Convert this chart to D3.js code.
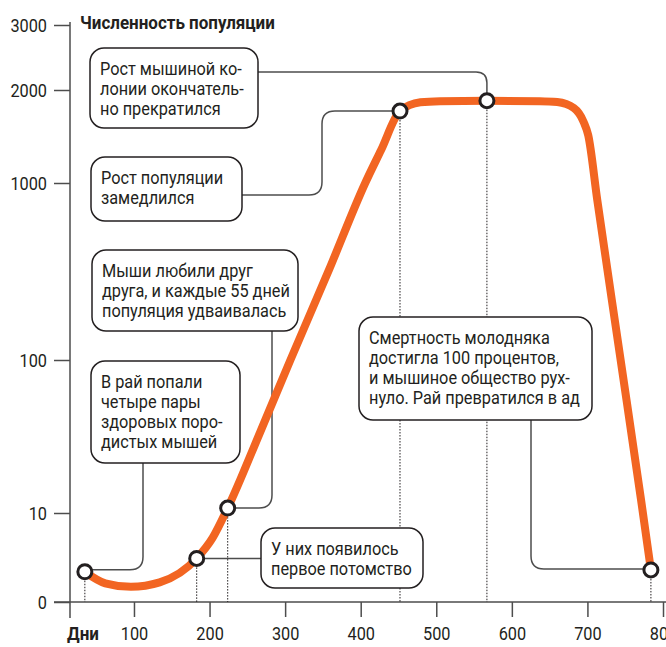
<!DOCTYPE html>
<html>
<head>
<meta charset="utf-8">
<script src="https://cdn.jsdelivr.net/npm/d3@7"></script>
<style>
html,body{margin:0;padding:0;background:#fff;}
svg{display:block;}
text{font-family:Roboto,"Noto Sans",sans-serif;fill:#231f20;}
</style>
</head>
<body>
<svg id="chart" width="666" height="647"></svg>
<script>
// ---- data ----
const days = [35, 62, 96, 134, 183, 204, 224, 267, 307, 358, 406, 427, 452, 479, 505, 567, 637, 660, 682, 695, 701, 713, 742, 771, 784];
const population = [3.4, 2.1, 1.7, 2.2, 4.9, 7.2, 12.9, 57.6, 100, 558, 1000, 1355, 1774, 1868, 1880, 1885, 1880, 1870, 1806, 1656, 1516, 914, 151, 17.6, 3.6];
const markerIndex = [0, 4, 6, 12, 15, 24];
const yTicks = [0, 10, 100, 1000, 2000, 3000];
const xTicks = [100, 200, 300, 400, 500, 600, 700, 800];
const yTitle = "Численность популяции";
const xTitle = "Дни";
const notes = [
  ["Рост мышиной ко-", "лонии окончатель-", "но прекратился"],
  ["Рост популяции", "замедлился"],
  ["Мыши любили друг", "друга, и каждые 55 дней", "популяция удваивалась"],
  ["В рай попали", "четыре пары", "здоровых поро-", "дистых мышей"],
  ["У них появилось", "первое потомство"],
  ["Смертность молодняка", "достигла 100 процентов,", "и мышиное общество рух-", "нуло. Рай превратился в ад"]
];

// ---- scales ----
const x = d3.scaleLinear().domain([0, 800]).range([58.4, 663]);
const y = d3.scaleLinear().domain(yTicks).range([602, 513, 360, 183, 90, 25]);

const svg = d3.select("#chart");
const ink = "#231f20", lineGray = "#4d4d4d", orange = "#f26522";
const FS = 19;

// axes
const yAxisX = 70;
svg.append("line").attr("x1", yAxisX).attr("x2", yAxisX).attr("y1", 22).attr("y2", 618)
  .attr("stroke", lineGray).attr("stroke-width", 1.5);
svg.append("line").attr("x1", 54).attr("x2", 666).attr("y1", y(0)).attr("y2", y(0))
  .attr("stroke", lineGray).attr("stroke-width", 1.5);

const gy = svg.append("g").attr("transform", `translate(${yAxisX},0)`)
  .call(d3.axisLeft(y).tickValues(yTicks).tickSize(16).tickPadding(7).tickFormat(d3.format("d")));
gy.select(".domain").remove();
gy.attr("font-family", null).attr("font-size", null);
gy.selectAll(".tick line").attr("stroke", lineGray).attr("stroke-width", 1.5);
gy.selectAll(".tick text").attr("font-size", FS).attr("dy", "0.35em");

const gx = svg.append("g").attr("transform", `translate(0,${y(0)})`)
  .call(d3.axisBottom(x).tickValues(xTicks).tickSize(15).tickPadding(0).tickFormat(d3.format("d")));
gx.select(".domain").remove();
gx.attr("font-family", null).attr("font-size", null);
gx.selectAll(".tick line").attr("stroke", lineGray).attr("stroke-width", 1.5);
gx.selectAll(".tick text").attr("font-size", FS).attr("y", 38).attr("dy", 0);
svg.selectAll(".tick text").attr("fill", ink);

const xt = svg.append("text").attr("class", "bold").attr("x", 67).attr("y", 640).attr("font-size", FS).attr("font-weight", "bold").text(xTitle);
const yt = svg.append("text").attr("class", "bold").attr("x", 80).attr("y", 29).attr("font-size", FS).attr("font-weight", "bold").text(yTitle);

const pts = days.map((d, i) => ({ d, v: population[i] }));
const mk = markerIndex.map(i => ({ px: x(days[i]), py: y(population[i]) }));

// dotted drop lines
svg.append("g").selectAll("line").data(mk).join("line")
  .attr("x1", d => d.px).attr("x2", d => d.px).attr("y1", d => d.py).attr("y2", y(0))
  .attr("stroke", ink).attr("stroke-width", 1).attr("stroke-dasharray", "1.5,1.5");

// rounded polyline helper
function rounded(p, r) {
  let s = `M${p[0][0]},${p[0][1]}`;
  for (let i = 1; i < p.length - 1; i++) {
    const [ax, ay] = p[i - 1], [bx, by] = p[i], [cx, cy] = p[i + 1];
    const l1 = Math.hypot(bx - ax, by - ay), l2 = Math.hypot(cx - bx, cy - by);
    const rr = Math.min(r, l1 / 2, l2 / 2);
    const s1x = bx - (bx - ax) / l1 * rr, s1y = by - (by - ay) / l1 * rr;
    const s2x = bx + (cx - bx) / l2 * rr, s2y = by + (cy - by) / l2 * rr;
    s += `L${s1x},${s1y}Q${bx},${by} ${s2x},${s2y}`;
  }
  const q = p[p.length - 1];
  return s + `L${q[0]},${q[1]}`;
}

// boxes layout
const boxes = [
  { x: 90, y: 48, w: 168, h: 80 },
  { x: 91, y: 157, w: 151, h: 64 },
  { x: 92, y: 250, w: 206, h: 81 },
  { x: 91, y: 361, w: 149, h: 102 },
  { x: 261, y: 528, w: 162, h: 60 },
  { x: 359, y: 317, w: 233, h: 103 }
];
const R = 7;
const m = mk;
const connectors = [
  [[258, 72], [m[4].px, 72], [m[4].px, m[4].py - R]],
  [[242, 195], [322, 195], [322, m[3].py], [m[3].px - R, m[3].py]],
  [[272, 331], [272, m[2].py], [m[2].px + R, m[2].py]],
  [[143, 463], [143, m[0].py - 2], [m[0].px + R, m[0].py - 2]],
  [[261, m[1].py], [m[1].px + R, m[1].py]],
  [[531, 420], [531, m[5].py - 1], [m[5].px - R, m[5].py - 1]]
];
svg.append("g").selectAll("path").data(connectors).join("path")
  .attr("d", d => rounded(d, 13)).attr("fill", "none")
  .attr("stroke", lineGray).attr("stroke-width", 1.5);

const gb = svg.append("g").selectAll("g").data(boxes).join("g");
gb.append("rect").attr("x", d => d.x).attr("y", d => d.y).attr("width", d => d.w).attr("height", d => d.h)
  .attr("rx", 14).attr("fill", "#fff").attr("stroke", ink).attr("stroke-width", 1.5);
gb.each(function (b, i) {
  const t = d3.select(this).append("text").attr("class", "note").attr("font-size", FS).attr("data-ax", b.x + 10);
  notes[i].forEach((ln, j) => t.append("tspan").attr("x", b.x + 10).attr("y", b.y + 27.5 + j * 20).text(ln));
});

// condense text horizontally to mimic the narrow typeface
const probe = gb.filter((d, i) => i === 2).select("text tspan:nth-child(2)").node();
const kReg = 188 / probe.getComputedTextLength();
const kBold = 195 / yt.node().getComputedTextLength();
function squeeze(sel, k) {
  sel.each(function () {
    const el = d3.select(this);
    let ax = el.attr("data-ax");
    if (ax == null) ax = +el.attr("x") || 0;
    el.attr("transform", `translate(${ax},0) scale(${k},1) translate(${-ax},0)`);
  });
}
squeeze(svg.selectAll("text.note"), kReg);
squeeze(svg.selectAll(".tick text"), kReg);
squeeze(svg.selectAll("text.bold"), kBold);

// population line
const line = d3.line().x(d => x(d.d)).y(d => y(d.v)).curve(d3.curveMonotoneX);
svg.append("path").datum(pts).attr("d", line).attr("fill", "none")
  .attr("stroke", orange).attr("stroke-width", 8).attr("stroke-linejoin", "round").attr("stroke-linecap", "round");

svg.append("g").selectAll("circle").data(mk).join("circle")
  .attr("cx", d => d.px).attr("cy", d => d.py).attr("r", R)
  .attr("fill", "#fff").attr("stroke", ink).attr("stroke-width", 3);
</script>
</body>
</html>
